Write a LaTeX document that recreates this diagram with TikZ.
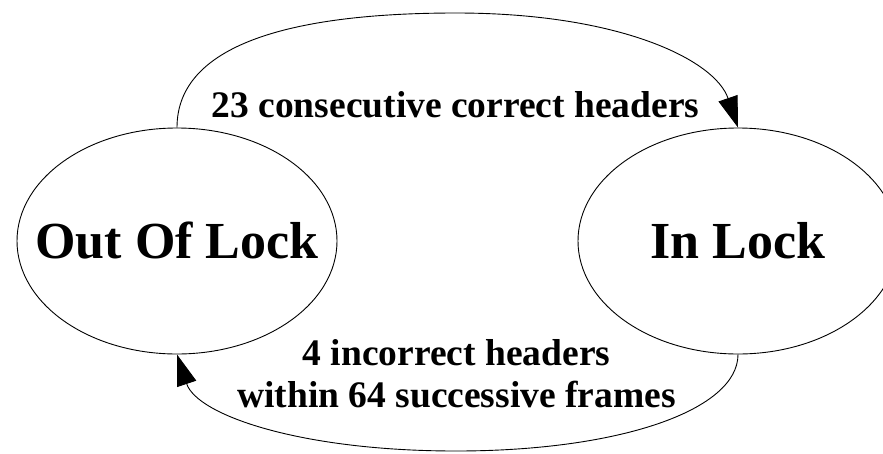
\documentclass[tikz,border=0pt]{standalone}
\usepackage{fontspec}
\setmainfont{Liberation Serif}
\usepackage{tikz}
\usetikzlibrary{arrows.meta,shapes.geometric}

\begin{document}
\begin{tikzpicture}[
    x=1pt,
    y=-1pt,
    >={Triangle[length=31pt, width=20pt]},
    line width=0.9pt,
    state/.style={draw, ellipse, minimum width=320pt, minimum height=226pt, inner sep=0pt, font=\bfseries\fontsize{52}{58}\selectfont},
    trans/.style={align=center, anchor=base, font=\bfseries\fontsize{37.5}{42}\selectfont}
]
\useasboundingbox (0,0) rectangle (883,453);

% --- Estados ---
\node[state] (unlocked) at (177,241) {\makebox[0pt]{Out Of Lock}};
\node[state] (locked)   at (738,241) {\makebox[0pt]{In Lock}};

% --- Transiciones ---
\draw[->] (unlocked.north) .. controls (177,45) and (290,13) .. (456,13)
    .. controls (620,13) and (715,60) .. (locked.north);
\draw[->] (locked.south) .. controls (738,410) and (620,451) .. (456,451)
    .. controls (300,451) and (197,415) .. (unlocked.south);

\node[trans] (gain) at (455.5,117) {23 consecutive correct headers};
\node[trans] (loss) at (456.5,407) {4 incorrect headers\\within 64 successive frames};

\end{tikzpicture}
\end{document}
